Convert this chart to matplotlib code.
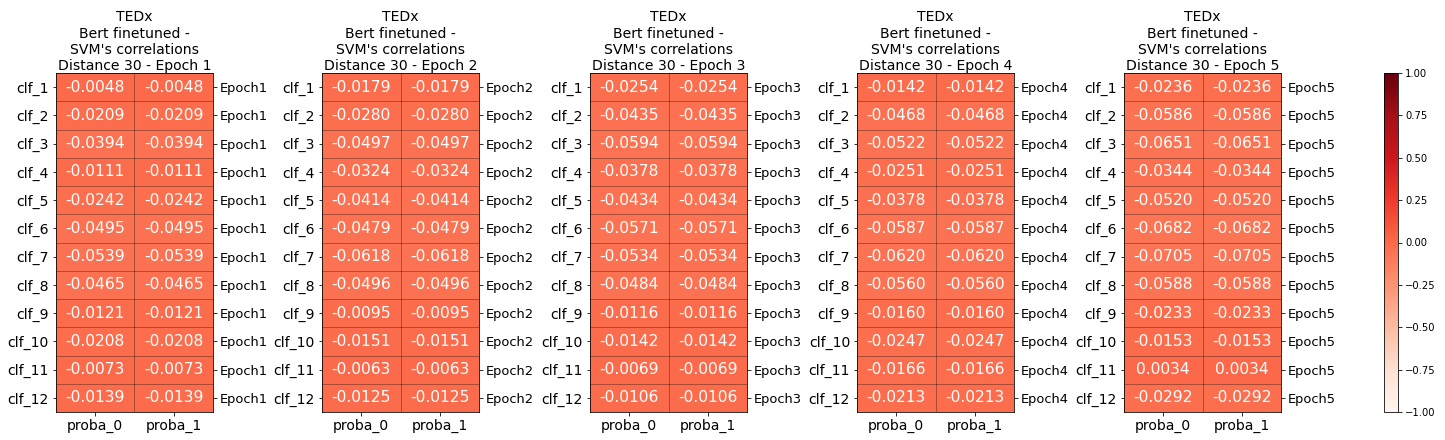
import numpy as np
import matplotlib
matplotlib.use("Agg")
import matplotlib.pyplot as plt
from matplotlib.colors import Normalize

classifiers = [f"clf_{i}" for i in range(1, 13)]
columns = ["proba_0", "proba_1"]
epochs = ["Epoch1", "Epoch2", "Epoch3", "Epoch4", "Epoch5"]

epoch1 = [-0.0048, -0.0209, -0.0394, -0.0111, -0.0242, -0.0495, -0.0539, -0.0465, -0.0121, -0.0208, -0.0073, -0.0139]
epoch2 = [-0.0179, -0.0280, -0.0497, -0.0324, -0.0414, -0.0479, -0.0618, -0.0496, -0.0095, -0.0151, -0.0063, -0.0125]
epoch3 = [-0.0254, -0.0435, -0.0594, -0.0378, -0.0434, -0.0571, -0.0534, -0.0484, -0.0116, -0.0142, -0.0069, -0.0106]
epoch4 = [-0.0142, -0.0468, -0.0522, -0.0251, -0.0378, -0.0587, -0.0620, -0.0560, -0.0160, -0.0247, -0.0166, -0.0213]
epoch5 = [-0.0236, -0.0586, -0.0651, -0.0344, -0.0520, -0.0682, -0.0705, -0.0588, -0.0233, -0.0153, 0.0034, -0.0292]
all_epochs = [epoch1, epoch2, epoch3, epoch4, epoch5]

DPI = 72
fig = plt.figure(figsize=(1445 / DPI, 440 / DPI), dpi=DPI)
W, H = 1445, 440
norm = Normalize(vmin=-1, vmax=1)
cmap = plt.get_cmap("Reds")

lefts = [56, 322, 590, 857, 1124]
ax_w = 157
top, bottom = 73, 412

mesh = None
for k, (left, vals) in enumerate(zip(lefts, all_epochs)):
    ax = fig.add_axes([left / W, (H - bottom) / H, ax_w / W, (bottom - top) / H])
    data = np.column_stack([vals, vals])
    mesh = ax.pcolormesh(data, cmap=cmap, norm=norm, edgecolors="none", antialiased=False)
    ax.set_xlim(0, 2)
    ax.set_ylim(12, 0)
    for y in range(1, 12):
        ax.axhline(y, color="black", alpha=0.45, linewidth=0.7)
    ax.axvline(1, color="black", alpha=0.45, linewidth=0.7)
    for i in range(12):
        for j in range(2):
            ax.text(j + 0.5, i + 0.5, f"{data[i, j]:.4f}", ha="center", va="center",
                    color="white", fontsize=15.5)
    ax.set_xticks(np.arange(2) + 0.5)
    ax.set_xticklabels(columns, fontsize=14)
    ax.set_yticks(np.arange(12) + 0.5)
    ax.set_yticklabels(classifiers, fontsize=14)
    ax.set_title(f"TEDx\nBert finetuned -\nSVM's correlations\nDistance 30 - Epoch {k + 1}",
                 fontsize=14, linespacing=1.2, pad=3)
    ax2 = ax.twinx()
    ax2.set_ylim(12, 0)
    ax2.set_yticks(np.arange(12) + 0.5)
    ax2.set_yticklabels([epochs[k]] * 12, fontsize=13)
    for s in ax2.spines.values():
        s.set_visible(False)

cax = fig.add_axes([1384 / W, (H - bottom) / H, 14 / W, (bottom - top) / H])
cb = fig.colorbar(mesh, cax=cax)
cb.set_ticks([-1, -0.75, -0.5, -0.25, 0, 0.25, 0.5, 0.75, 1])
cb.ax.set_yticklabels(["\u22121.00", "\u22120.75", "\u22120.50", "\u22120.25", "0.00", "0.25", "0.50", "0.75", "1.00"])
cb.ax.tick_params(labelsize=10)
cb.outline.set_linewidth(0.8)

fig.savefig("out.png", dpi=DPI)
